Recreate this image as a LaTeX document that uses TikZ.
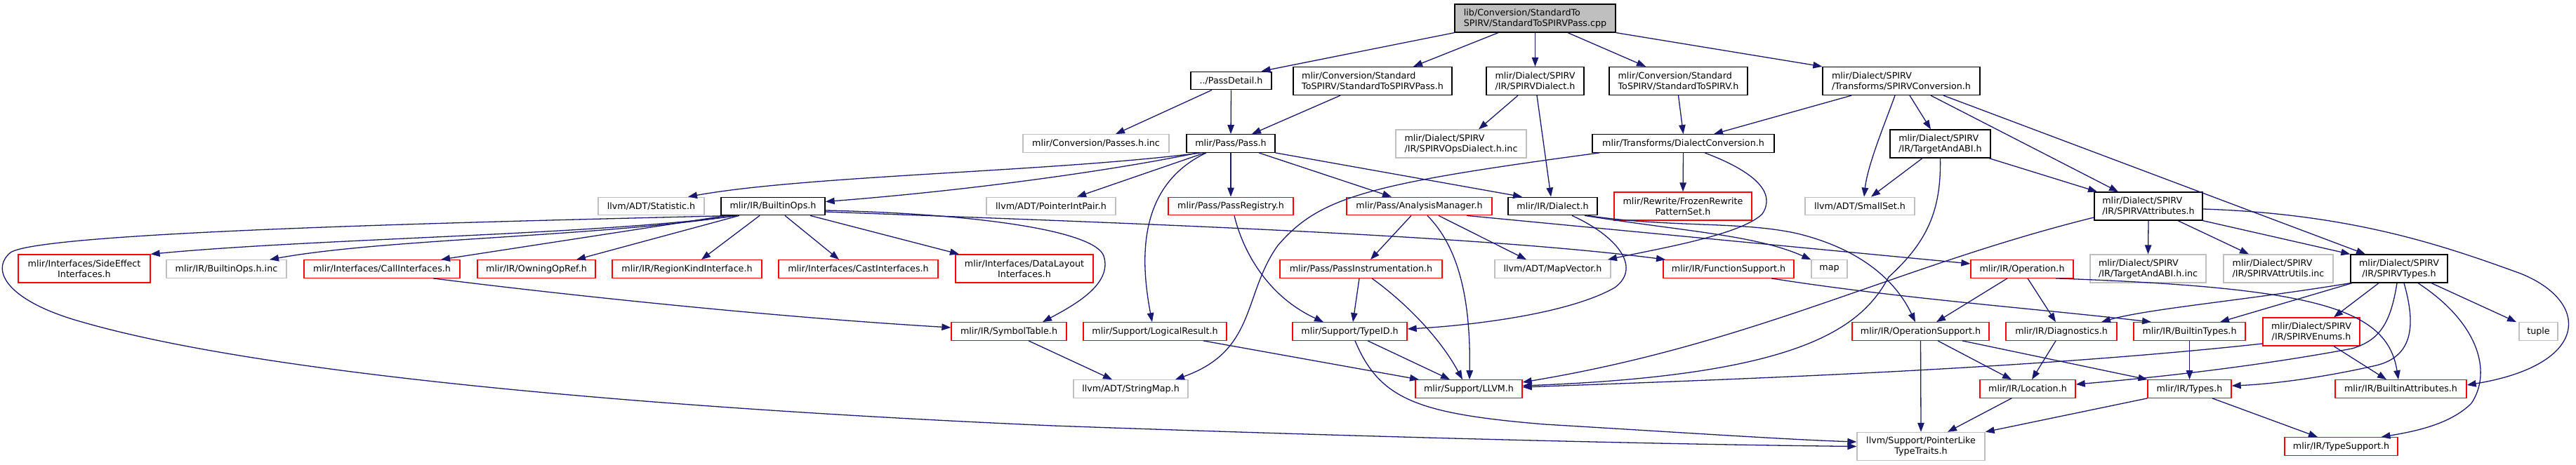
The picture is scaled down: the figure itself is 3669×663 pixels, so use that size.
\documentclass[tikz,border=0pt]{standalone}
\usepackage{fontspec}
\setmainfont{DejaVu Sans}
\usetikzlibrary{arrows.meta}
\definecolor{edgec}{HTML}{191970}
\definecolor{grey75}{HTML}{BFBFBF}
\definecolor{gvred}{HTML}{FF0000}
\newcommand\nodefnt{\fontsize{12.7}{15}\selectfont}
\tikzset{
  nb/.style={draw, line width=1.3pt, inner sep=0pt, minimum height=25.5pt, font=\nodefnt, align=center, text=black},
  blk/.style={nb, draw=black},
  rdb/.style={nb, draw=gvred},
  gyb/.style={nb, draw=grey75},
  tall/.style={minimum height=40pt},
  e/.style={draw=edgec, line width=1.3pt, -{Triangle[length=13pt,width=9.5pt]}},
}
\begin{document}
\begin{tikzpicture}[x=1pt,y=-1pt]
\useasboundingbox (0,0) rectangle (3669,663);
\fill[white] (0,0) rectangle (3669,663);
% row 0/1
\node[blk, tall, fill=grey75, minimum width=229pt, align=left] (root) at (2186.5,26) {lib/Conversion/StandardTo\\SPIRV/StandardToSPIRVPass.cpp};
\node[blk, minimum width=115pt] (passdetail) at (1753.5,115) {../PassDetail.h};
\node[blk, tall, minimum width=226pt, align=left] (stdpassh) at (1955,115.5) {mlir/Conversion/Standard\\ToSPIRV/StandardToSPIRVPass.h};
\node[blk, tall, minimum width=139pt, align=left] (spirvdialect) at (2186.5,115.5) {mlir/Dialect/SPIRV\\/IR/SPIRVDialect.h};
\node[blk, tall, minimum width=197pt, align=left] (stdtospirv) at (2390.5,115.5) {mlir/Conversion/Standard\\ToSPIRV/StandardToSPIRV.h};
\node[blk, tall, minimum width=224pt, align=left] (spirvconv) at (2708,115.5) {mlir/Dialect/SPIRV\\/Transforms/SPIRVConversion.h};
% row 2
\node[gyb, minimum width=208pt] (passesinc) at (1561,204.5) {mlir/Conversion/Passes.h.inc};
\node[blk, minimum width=126pt] (passh) at (1753,204.5) {mlir/Pass/Pass.h};
\node[gyb, tall, minimum width=186pt, align=left] (opsdialectinc) at (2081,205) {mlir/Dialect/SPIRV\\/IR/SPIRVOpsDialect.h.inc};
\node[blk, minimum width=259pt] (dialectconv) at (2397.5,204.5) {mlir/Transforms/DialectConversion.h};
\node[blk, tall, minimum width=143pt, align=left] (targetabi) at (2763.5,205) {mlir/Dialect/SPIRV\\/IR/TargetAndABI.h};
% row 3
\node[gyb, minimum width=151pt] (statistic) at (927.5,294) {llvm/ADT/Statistic.h};
\node[blk, minimum width=148pt] (builtinops) at (1101,294) {mlir/IR/BuiltinOps.h};
\node[gyb, minimum width=184pt] (pointerintpair) at (1497,294) {llvm/ADT/PointerIntPair.h};
\node[rdb, minimum width=178pt] (passregistry) at (1753,294) {mlir/Pass/PassRegistry.h};
\node[rdb, minimum width=207pt] (analysismgr) at (2021.5,294) {mlir/Pass/AnalysisManager.h};
\node[blk, minimum width=127pt] (dialecth) at (2211.5,294) {mlir/IR/Dialect.h};
\node[rdb, tall, minimum width=196pt] (frozen) at (2397,294) {mlir/Rewrite/FrozenRewrite\\PatternSet.h};
\node[gyb, minimum width=156pt] (smallset) at (2649,294) {llvm/ADT/SmallSet.h};
\node[blk, tall, minimum width=154pt, align=left] (spirvattr) at (3060,294) {mlir/Dialect/SPIRV\\/IR/SPIRVAttributes.h};
% row 4
\node[rdb, tall, minimum width=188pt] (sideeffect) at (120,383) {mlir/Interfaces/SideEffect\\Interfaces.h};
\node[gyb, minimum width=171pt] (builtinopsinc) at (322.5,383.5) {mlir/IR/BuiltinOps.h.inc};
\node[rdb, minimum width=222pt] (callif) at (544,383.5) {mlir/Interfaces/CallInterfaces.h};
\node[rdb, minimum width=168pt] (owning) at (764,383.5) {mlir/IR/OwningOpRef.h};
\node[rdb, minimum width=213pt] (regionkind) at (978.5,383.5) {mlir/IR/RegionKindInterface.h};
\node[rdb, minimum width=227pt] (castif) at (1222.5,383.5) {mlir/Interfaces/CastInterfaces.h};
\node[rdb, tall, minimum width=196pt] (datalayout) at (1459,383) {mlir/Interfaces/DataLayout\\Interfaces.h};
\node[rdb, minimum width=231pt] (passinstr) at (1938.5,383.5) {mlir/Pass/PassInstrumentation.h};
\node[gyb, minimum width=165pt] (mapvector) at (2211.5,383.5) {llvm/ADT/MapVector.h};
\node[rdb, minimum width=186pt] (funcsupport) at (2462,383.5) {mlir/IR/FunctionSupport.h};
\node[gyb, minimum width=51pt] (map) at (2605.5,383.5) {map};
\node[rdb, minimum width=146pt] (operation) at (2880,383.5) {mlir/IR/Operation.h};
\node[gyb, tall, minimum width=165pt, align=left] (targetabiinc) at (3059.5,383) {mlir/Dialect/SPIRV\\/IR/TargetAndABI.h.inc};
\node[gyb, tall, minimum width=156pt, align=left] (attrutils) at (3245,383) {mlir/Dialect/SPIRV\\/IR/SPIRVAttrUtils.inc};
\node[blk, tall, minimum width=138pt] (spirvtypes) at (3417,383) {mlir/Dialect/SPIRV\\/IR/SPIRVTypes.h};
% row 5
\node[rdb, minimum width=164pt] (symboltable) at (1437,472.5) {mlir/IR/SymbolTable.h};
\node[rdb, minimum width=204pt] (logicalresult) at (1645,472.5) {mlir/Support/LogicalResult.h};
\node[rdb, minimum width=163pt] (typeid) at (1922.5,472.5) {mlir/Support/TypeID.h};
\node[rdb, minimum width=195pt] (opsupport) at (2735.5,472.5) {mlir/IR/OperationSupport.h};
\node[rdb, minimum width=158pt] (diagnostics) at (2936,472.5) {mlir/IR/Diagnostics.h};
\node[rdb, minimum width=159pt] (builtintypes) at (3118.5,472.5) {mlir/IR/BuiltinTypes.h};
\node[rdb, tall, minimum width=138pt] (spirvenums) at (3292,473) {mlir/Dialect/SPIRV\\/IR/SPIRVEnums.h};
\node[gyb, minimum width=55pt] (tuple) at (3615.5,472.5) {tuple};
% row 6
\node[gyb, minimum width=163pt] (stringmap) at (1610.5,554.5) {llvm/ADT/StringMap.h};
\node[rdb, minimum width=152pt] (llvmh) at (2092,554.5) {mlir/Support/LLVM.h};
\node[rdb, minimum width=136pt] (location) at (2888,554.5) {mlir/IR/Location.h};
\node[rdb, minimum width=119pt] (types) at (3118.5,554.5) {mlir/IR/Types.h};
\node[rdb, minimum width=187pt] (builtinattrs) at (3419.5,554.5) {mlir/IR/BuiltinAttributes.h};
% row 7
\node[gyb, tall, minimum width=182pt] (pointerlike) at (2736,636.5) {llvm/Support/PointerLike\\TypeTraits.h};
\node[rdb, minimum width=161pt] (typesupport) at (3334.5,636.5) {mlir/IR/TypeSupport.h};

% ---- edges ----
\draw[e] (root.south west) -- ([xshift=43pt]passdetail.north);
\draw[e] ([xshift=-52.5pt]root.south) -- ([xshift=58pt]stdpassh.north);
\draw[e] (root.south) -- (spirvdialect.north);
\draw[e] ([xshift=46.5pt]root.south) -- ([xshift=-46.5pt]stdtospirv.north);
\draw[e] (root.south east) -- (spirvconv.north west);

\draw[e] ([xshift=-27.5pt]passdetail.south) -- ([xshift=28pt]passesinc.north);
\draw[e] (passdetail.south) -- (passh.north);
\draw[e] ([xshift=-46pt]stdpassh.south) -- ([xshift=30pt]passh.north);
\draw[e] ([xshift=-24.5pt]spirvdialect.south) -- ([xshift=25pt]opsdialectinc.north);
\draw[e] ([xshift=2.5pt]spirvdialect.south) -- ([xshift=-2.5pt]dialecth.north);
\draw[e] (stdtospirv.south) -- (dialectconv.north);
\draw[e] ([xshift=-71pt]spirvconv.south) -- ([xshift=43.5pt]dialectconv.north);
\draw[e] ([xshift=-9pt]spirvconv.south) .. controls (2685,175) and (2660,235) .. ([xshift=6pt]smallset.north);
\draw[e] ([xshift=12pt]spirvconv.south) -- ([xshift=-13.5pt]targetabi.north);
\draw[e] ([xshift=42pt]spirvconv.south) -- ([xshift=-43pt]spirvattr.north);
\draw[e] ([xshift=60pt]spirvconv.south) -- ([xshift=-48pt]spirvtypes.north);

% Pass.h
\draw[e] ([xshift=-43pt]passh.south) .. controls (1500,245) and (1150,250) .. ([xshift=52.5pt]statistic.north);
\draw[e] ([xshift=-47pt]passh.south) .. controls (1600,240) and (1400,270) .. ([yshift=6.5pt]builtinops.east);
\draw[e] ([xshift=-37pt]passh.south) -- ([xshift=37pt]pointerintpair.north);
\draw[e] ([xshift=-35pt]passh.south) .. controls (1630,260) and (1620,350) .. ([xshift=-4pt]logicalresult.north);
\draw[e] (passh.south) -- (passregistry.north);
\draw[e] ([xshift=40pt]passh.south) -- ([xshift=-39.5pt]analysismgr.north);
\draw[e] (passh.south east) -- ([xshift=-43.5pt]dialecth.north);

% BuiltinOps.h
\draw[e] ([xshift=-51pt]builtinops.south) .. controls (850,335) and (450,340) .. (sideeffect.north east);
\draw[e] ([xshift=-53pt]builtinops.south) .. controls (850,338) and (550,340) .. ([xshift=61.5pt]builtinopsinc.north);
\draw[e] ([xshift=-66pt]builtinops.south) -- ([xshift=84pt]callif.north);
\draw[e] ([xshift=-48pt]builtinops.south) -- ([xshift=57pt]owning.north);
\draw[e] ([xshift=-19pt]builtinops.south) -- ([xshift=20.5pt]regionkind.north);
\draw[e] ([xshift=17pt]builtinops.south) -- ([xshift=-27.5pt]castif.north);
\draw[e] ([xshift=53pt]builtinops.south) -- ([xshift=-93pt]datalayout.north);
\draw[e] ([yshift=-6pt]builtinops.east) .. controls (1400,305) and (1560,330) .. (1572,365) .. controls (1585,405) and (1530,435) .. ([xshift=48pt]symboltable.north);
\draw[e] ([yshift=-8pt]builtinops.east) .. controls (1600,318) and (2100,335) .. ([xshift=-90pt]funcsupport.north);
\draw[e] ([xshift=-56pt]builtinops.south) .. controls (700,316) and (60,330) .. (15,360) .. controls (-15,385) and (10,430) .. (120,460) .. controls (400,540) and (1000,585) .. (1500,607) .. controls (2000,625) and (2400,634) .. (pointerlike.west);
\draw[e] ([xshift=73pt]callif.south) .. controls (800,420) and (1100,452) .. ([yshift=5.5pt]symboltable.west);

% AnalysisManager.h
\draw[e] ([xshift=-11.5pt]analysismgr.south) -- ([xshift=13.5pt]passinstr.north);
\draw[e] ([xshift=11.5pt]analysismgr.south) .. controls (2075,350) and (2095,420) .. ([xshift=1pt]llvmh.north);
\draw[e] ([xshift=27.5pt]analysismgr.south) -- ([xshift=-37.5pt]mapvector.north);
\draw[e] ([xshift=67.5pt]analysismgr.south) -- ([yshift=7.5pt]operation.west);

% Dialect.h
\draw[e] ([xshift=27.5pt]dialecth.south) .. controls (2300,335) and (2340,380) .. (2300,410) .. controls (2230,450) and (2080,465) .. ([yshift=3.5pt]typeid.east);
\draw[e] ([xshift=45.5pt]dialecth.south) .. controls (2400,330) and (2500,335) .. (map.north west);
\draw[e] ([xshift=50pt]dialecth.south) .. controls (2380,325) and (2480,315) .. (2560,333) .. controls (2650,355) and (2700,400) .. ([xshift=-7.5pt]opsupport.north);

% DialectConversion.h
\draw[e] (dialectconv.south) -- (frozen.north);
\draw[e] ([xshift=-119.5pt]dialectconv.south) .. controls (1950,262) and (1880,280) .. (1820,350) .. controls (1770,420) and (1790,500) .. ([xshift=63.5pt]stringmap.north);
\draw[e] ([xshift=30.5pt]dialectconv.south) .. controls (2500,245) and (2530,275) .. (2510,305) .. controls (2480,335) and (2360,355) .. ([xshift=78.5pt]mapvector.north);

% PassRegistry / PassInstrumentation / TypeID / misc
\draw[e] ([xshift=5pt]passregistry.south) .. controls (1768,350) and (1800,420) .. ([xshift=-37.5pt]typeid.north);
\draw[e] ([xshift=-2.5pt]passinstr.south) -- ([xshift=4.5pt]typeid.north);
\draw[e] ([xshift=15.5pt]passinstr.south) .. controls (2000,430) and (2050,480) .. ([xshift=-9pt]llvmh.north);
\draw[e] ([xshift=25.5pt]typeid.south) -- ([xshift=-27pt]llvmh.north);
\draw[e] ([xshift=7.5pt]typeid.south) .. controls (1965,570) and (2020,590) .. (2200,605) .. controls (2400,617) and (2550,627) .. ([yshift=6.5pt]pointerlike.west);
\draw[e] ([xshift=69pt]logicalresult.south) -- ([xshift=-71pt]llvmh.north);
\draw[e] ([xshift=28pt]symboltable.south) -- ([xshift=-26.5pt]stringmap.north);

% TargetAndABI.h
\draw[e] ([xshift=-25.5pt]targetabi.south) -- ([xshift=16pt]smallset.north);
\draw[e] ([xshift=69.5pt]targetabi.south) -- ([xshift=-73pt]spirvattr.north);
\draw[e] (targetabi.south) .. controls (2765,300) and (2745,345) .. (2690,395) .. controls (2650,470) and (2560,535) .. ([yshift=4.5pt]llvmh.east);

% SPIRVAttributes.h
\draw[e] ([yshift=-16pt]spirvattr.west) .. controls (2700,380) and (2500,490) .. ([yshift=9.5pt]llvmh.east);
\draw[e] (spirvattr.south) -- (targetabiinc.north);
\draw[e] ([xshift=42pt]spirvattr.south) -- ([xshift=-42pt]attrutils.north);
\draw[e] (spirvattr.south east) -- (spirvtypes.north west);
\draw[e] ([yshift=-4pt]spirvattr.east) .. controls (3350,305) and (3480,350) .. (3590,390) .. controls (3690,430) and (3690,520) .. ([yshift=5.5pt]builtinattrs.east);

% SPIRVEnums.h
\draw[e] ([yshift=-17pt]spirvenums.west) .. controls (2900,525) and (2500,540) .. ([yshift=2.5pt]llvmh.east);
\draw[e] ([xshift=32pt]spirvenums.south) -- ([xshift=-20.5pt]builtinattrs.north);

% Operation.h
\draw[e] ([xshift=-21pt]operation.south) -- ([xshift=22.5pt]opsupport.north);
\draw[e] ([xshift=8pt]operation.south) -- ([xshift=-8pt]diagnostics.north);
\draw[e] ([xshift=48pt]operation.south) .. controls (3300,410) and (3400,440) .. ([xshift=-3.5pt]builtinattrs.north);

% FunctionSupport.h
\draw[e] ([xshift=61pt]funcsupport.south) .. controls (2700,425) and (2900,440) .. ([xshift=-54.5pt]builtintypes.north);

% lower rows
\draw[e] ([xshift=-8pt]diagnostics.south) -- ([xshift=6pt]location.north);
\draw[e] ([xshift=24.5pt]opsupport.south) -- ([xshift=-23pt]location.north);
\draw[e] (opsupport.south) -- (pointerlike.north);
\draw[e] ([xshift=59.5pt]opsupport.south) -- ([xshift=-60pt]types.north);
\draw[e] ([xshift=-23pt]location.south) -- ([xshift=38pt]pointerlike.north);
\draw[e] (types.south west) -- (pointerlike.north east);
\draw[e] ([xshift=32.5pt]types.south) -- ([xshift=-33.5pt]typesupport.north);
\draw[e] (builtintypes.south) -- (types.north);

% SPIRVTypes.h
\draw[e] (spirvtypes.south west) .. controls (3200,428) and (3060,440) .. ([xshift=57pt]diagnostics.north);
\draw[e] ([xshift=-67pt]spirvtypes.south) -- ([xshift=43.5pt]builtintypes.north);
\draw[e] ([xshift=-29pt]spirvtypes.south) -- ([xshift=32pt]spirvenums.north);
\draw[e] ([xshift=-3pt]spirvtypes.south) .. controls (3405,460) and (3390,485) .. (3350,497) .. controls (3200,525) and (3050,540) .. ([yshift=6.5pt]location.east);
\draw[e] ([xshift=7pt]spirvtypes.south) .. controls (3440,460) and (3440,510) .. (3380,522) .. controls (3300,540) and (3230,548) .. ([yshift=4.5pt]types.east);
\draw[e] ([xshift=27pt]spirvtypes.south) .. controls (3530,460) and (3550,530) .. (3520,575) .. controls (3490,605) and (3440,615) .. ([xshift=57pt]typesupport.north);
\draw[e] ([xshift=46pt]spirvtypes.south) -- ([xshift=-31.5pt]tuple.north);
\end{tikzpicture}
\end{document}
